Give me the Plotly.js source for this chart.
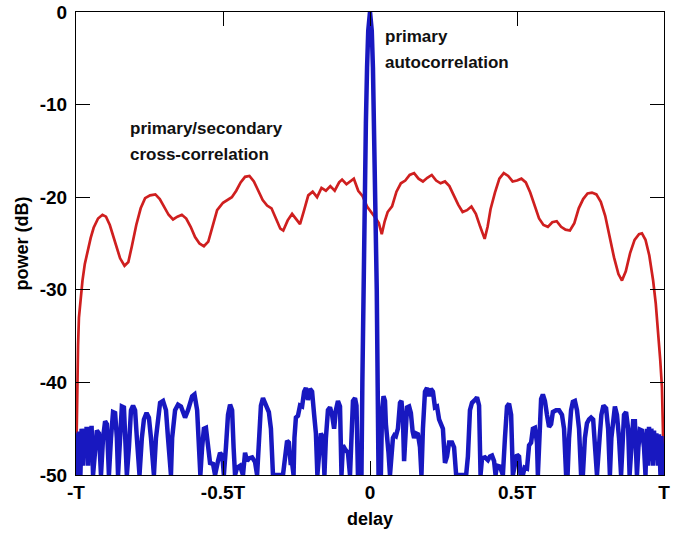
<!DOCTYPE html>
<html>
<head>
<meta charset="utf-8">
<script src="https://cdn.plot.ly/plotly-3.0.1.min.js"></script>
<style>html,body{margin:0;padding:0;background:#fff;}#chart{width:685px;height:533px;}</style>
</head>
<body>
<div id="chart"></div>
<script>
// delay in units of T, power in dB
const delayTicks = [-1, -0.5, 0, 0.5, 1];
const delayTickLabels = ['-T', '-0.5T', '0', '0.5T', 'T'];
const powerTicks = [-50, -40, -30, -20, -10, 0];
const powerTickLabels = ['-50', '-40', '-30', '-20', '-10', '0'];

// primary/secondary cross-correlation (red)
const crossDelay = [
 -1.0,-0.998,-0.996,-0.993,-0.990,-0.985,-0.978,-0.970,-0.960,-0.950,-0.940,-0.925,-0.910,-0.898,-0.885,
 -0.865,-0.850,-0.835,-0.822,-0.810,-0.795,-0.780,-0.765,-0.748,-0.730,-0.715,-0.700,-0.685,-0.670,-0.655,
 -0.640,-0.625,-0.610,-0.595,-0.580,-0.565,-0.550,-0.535,-0.520,-0.500,-0.485,-0.470,-0.455,-0.440,-0.425,
 -0.410,-0.395,-0.380,-0.365,-0.350,-0.335,-0.320,-0.305,-0.295,-0.280,-0.265,-0.250,-0.238,-0.225,-0.210,
 -0.195,-0.180,-0.165,-0.150,-0.135,-0.120,-0.105,-0.095,-0.080,-0.065,-0.055,-0.040,-0.025,-0.010,0.005,
 0.020,0.030,0.040,0.050,0.060,0.075,0.090,0.105,0.120,0.135,0.150,0.165,0.180,0.195,0.210,
 0.225,0.240,0.255,0.270,0.285,0.300,0.315,0.330,0.345,0.360,0.375,0.390,0.400,0.410,0.425,
 0.440,0.455,0.470,0.485,0.500,0.515,0.530,0.545,0.560,0.575,0.590,0.605,0.620,0.635,0.650,
 0.665,0.680,0.695,0.710,0.725,0.740,0.755,0.770,0.785,0.800,0.815,0.830,0.845,0.857,0.870,
 0.885,0.900,0.915,0.925,0.937,0.950,0.963,0.972,0.980,0.987,0.993,0.997,1.0
];
const crossPower = [
 -50,-45,-40,-36,-33,-31,-29,-27.2,-25.7,-24.4,-23.3,-22.3,-21.9,-22.1,-23.0,
 -25.0,-26.6,-27.4,-27.0,-25.3,-23.0,-21.2,-20.1,-19.8,-19.7,-20.2,-21.0,-21.9,-22.4,-22.1,
 -21.9,-22.3,-23.2,-24.3,-25.0,-25.3,-24.8,-23.0,-21.4,-20.6,-20.3,-20.0,-19.3,-18.4,-17.8,
 -17.7,-18.3,-19.3,-20.3,-20.9,-21.2,-22.3,-23.4,-23.6,-22.5,-21.8,-22.4,-22.9,-21.5,-19.8,
 -19.4,-20.0,-19.0,-19.3,-18.8,-19.3,-18.4,-18.1,-18.6,-18.2,-18.0,-19.3,-19.9,-21.0,-21.6,
 -22.3,-22.8,-24.0,-22.6,-21.6,-21.0,-19.4,-18.5,-18.2,-17.6,-17.4,-18.0,-18.3,-17.9,-17.6,
 -18.2,-18.5,-18.3,-18.8,-19.8,-20.8,-21.6,-21.4,-21.0,-21.8,-23.2,-24.5,-23.2,-21.3,-19.5,
 -18.0,-17.4,-17.7,-18.3,-18.2,-18.0,-18.4,-19.5,-21.0,-22.3,-23.0,-23.2,-22.7,-22.6,-23.2,
 -23.5,-23.6,-22.8,-21.2,-20.2,-19.6,-19.5,-19.7,-20.5,-22.0,-24.2,-26.5,-28.3,-29.0,-28.0,
 -26.0,-24.6,-24.0,-23.9,-24.6,-26.3,-29.0,-31.5,-34.4,-37.5,-40.5,-46,-50
];

// primary autocorrelation (blue)
const autoDelay = [
 -1.000,-0.997,-0.993,-0.990,-0.985,-0.981,-0.976,-0.973,-0.968,-0.964,-0.959,-0.956,-0.951,-0.947,-0.942,
 -0.935,-0.929,-0.922,-0.915,-0.908,-0.901,-0.895,-0.888,-0.881,-0.874,-0.867,-0.861,-0.857,-0.850,-0.844,
 -0.837,-0.830,-0.827,-0.820,-0.813,-0.806,-0.799,-0.793,-0.784,-0.776,-0.769,-0.760,-0.752,-0.745,-0.735,
 -0.728,-0.721,-0.714,-0.704,-0.694,-0.687,-0.677,-0.673,-0.663,-0.653,-0.643,-0.629,-0.619,-0.605,-0.597,
 -0.588,-0.582,-0.577,-0.571,-0.565,-0.558,-0.551,-0.544,-0.534,-0.527,-0.517,-0.510,-0.502,-0.497,-0.490,
 -0.483,-0.476,-0.469,-0.464,-0.459,-0.452,-0.442,-0.432,-0.425,-0.418,-0.412,-0.401,-0.391,-0.384,-0.378,
 -0.371,-0.364,-0.357,-0.350,-0.344,-0.337,-0.330,-0.296,-0.289,-0.282,-0.276,-0.270,-0.265,-0.260,-0.257,
 -0.252,-0.245,-0.238,-0.231,-0.224,-0.218,-0.211,-0.204,-0.197,-0.190,-0.184,-0.179,-0.173,-0.167,-0.160,
 -0.155,-0.150,-0.143,-0.136,-0.129,-0.122,-0.116,-0.109,-0.102,-0.097,-0.092,-0.083,-0.075,-0.068,-0.063,
 -0.058,-0.051,-0.046,-0.041,
 -0.029,-0.026,-0.023,-0.019,-0.014,-0.010,-0.006,0,0.006,0.010,0.014,0.019,0.023,0.026,0.029,
 0.037,0.041,0.046,0.051,0.054,0.058,0.063,0.068,0.073,0.078,0.083,0.088,0.095,0.102,0.107,
 0.112,0.116,0.121,0.126,0.133,0.139,0.145,0.150,0.156,0.163,0.170,0.175,0.180,0.187,0.194,
 0.201,0.207,0.214,0.221,0.228,0.235,0.241,0.248,0.255,0.262,0.269,0.279,0.286,0.293,0.327,
 0.333,0.340,0.347,0.357,0.364,0.371,0.376,0.381,0.391,0.401,0.408,0.415,0.422,0.427,0.432,
 0.442,0.452,0.459,0.466,0.473,0.480,0.486,0.493,0.500,0.507,0.512,0.520,0.526,0.534,0.541,
 0.548,0.554,0.561,0.568,0.571,0.577,0.582,0.588,0.595,0.602,0.609,0.616,0.622,0.633,0.643,
 0.653,0.660,0.667,0.672,0.677,0.684,0.690,0.697,0.704,0.711,0.718,0.724,0.731,0.738,0.745,
 0.752,0.759,0.765,0.772,0.781,0.787,0.794,0.803,0.810,0.816,0.821,0.827,0.833,0.840,0.847,
 0.854,0.859,0.864,0.871,0.878,0.883,0.888,0.895,0.901,0.908,0.913,0.918,0.925,0.932,0.937,
 0.942,0.946,0.949,0.954,0.957,0.963,0.966,0.971,0.974,0.980,0.983,0.988,0.991,0.997
];
const autoPower = [
 -50,-45.5,-50,-45.3,-50,-45,-49,-45,-48,-44.8,-49,-44.8,-47,-44.7,-50,
 -47,-45.2,-45.5,-50,-46,-44.2,-44.5,-50,-46,-43.2,-43.3,-46,-50,-45,-42.6,
 -42.7,-47,-50,-47,-43,-42.5,-43,-46,-50,-46,-44,-43.3,-43.8,-46,-50,
 -46,-43.5,-42.2,-42,-43,-46,-50,-46,-43,-42.4,-42.6,-43.8,-43,-41.5,-41.3,
 -43,-47,-50,-47,-45,-44.9,-47.5,-48.7,-48.8,-50,-48.5,-47.6,-48,-50,-47,
 -43.5,-42.4,-43,-47,-50,-49.2,-49,-50,-47.6,-48.5,-48.2,-48.1,-48.6,-50,-46,
 -42.5,-41.7,-42.3,-43,-43.2,-45,-50,-50,-48,-46.3,-46.5,-48.7,-48.7,-50,-46,
 -43.8,-43.6,-42.5,-42.6,-41,-40.6,-41.9,-40.7,-41,-43.5,-45.5,-50,-47,-45.5,-46,
 -50,-46,-43,-42.7,-43.5,-45,-43,-42,-42.6,-50,-46.8,-47.3,-47.6,-50,-45,
 -42,-41.7,-42.5,-50,
 -50,-40,-30,-20,-12,-6,-2,0,-2,-6,-12,-20,-30,-40,-50,
 -50,-43,-41.5,-42,-44.5,-45.5,-47.6,-50,-47.6,-46,-45.7,-45.8,-45,-42.2,-42,
 -44,-48.5,-46,-42.7,-42.6,-43.3,-45.3,-46,-45.5,-45.6,-47,-50,-45,-41,-40.6,
 -41.5,-40.7,-41,-42.7,-42.6,-44,-44.5,-45,-48.7,-48,-46.5,-46.5,-47,-50,-50,
 -48,-43,-42.2,-41.9,-41.6,-42.5,-50,-48.2,-48.1,-48.4,-48,-47.9,-48.5,-50,-49,
 -49.1,-50,-46,-42.6,-42.3,-43.5,-50,-49,-47.8,-48,-50,-50,-49.2,-49.3,-46.8,
 -46.5,-45,-44.9,-46.5,-50,-45,-41.8,-41.3,-42,-43.5,-44.8,-44.5,-43.2,-43,-43,
 -43.5,-45,-50,-50,-46,-43,-42.1,-42,-43,-45,-50,-50,-46,-44.4,-44,
 -43.8,-44,-46.5,-50,-46,-43.5,-42.5,-42.8,-45,-50,-46,-43.5,-42.6,-43.5,-46,
 -50,-46,-43.5,-43.2,-45,-50,-46.5,-44.2,-44.2,-50,-47,-45.1,-45.2,-47,-50,
 -45,-49,-44.8,-48.5,-45,-49,-45.2,-48,-45.5,-49,-45.6,-50,-45.8,-50
];

const FONT = 'Liberation Sans, Arial, Helvetica, sans-serif';

const traces = [
  {x: crossDelay, y: crossPower, type: 'scatter', mode: 'lines',
   line: {color: '#cf1f1f', width: 2.7}, hoverinfo: 'skip'},
  {x: autoDelay, y: autoPower, type: 'scatter', mode: 'lines',
   line: {color: '#1818c0', width: 4.5}, hoverinfo: 'skip'}
];

const axisCommon = {
  showgrid: false, zeroline: false, showline: true, linecolor: '#000', linewidth: 1,
  mirror: 'ticks', ticks: 'inside', ticklen: 14, tickwidth: 1, tickcolor: '#000',
  tickfont: {family: FONT, size: 19, color: '#000', weight: 'bold'}
};

const annFont = {family: FONT, size: 17, color: '#111', weight: 'bold'};

const layout = {
  width: 685, height: 533,
  margin: {l: 76, r: 21, t: 12, b: 58},
  paper_bgcolor: '#fff', plot_bgcolor: '#fff',
  showlegend: false,
  xaxis: Object.assign({}, axisCommon, {
    range: [-1, 1], tickmode: 'array', tickvals: delayTicks, ticktext: delayTickLabels,
    ticklabelstandoff: 0,
    title: {text: 'delay', font: {family: FONT, size: 18, color: '#000', weight: 'bold'}, standoff: 10}
  }),
  yaxis: Object.assign({}, axisCommon, {
    range: [-50, 0], tickmode: 'array', tickvals: powerTicks, ticktext: powerTickLabels,
    ticklabelstandoff: 4,
    title: {text: 'power (dB)', font: {family: FONT, size: 18, color: '#000', weight: 'bold'}, standoff: 6}
  }),
  annotations: [
    {x: -0.823, y: -12.6, xref: 'x', yref: 'y', text: 'primary/secondary', showarrow: false,
     xanchor: 'left', yanchor: 'middle', font: annFont},
    {x: -0.823, y: -15.4, xref: 'x', yref: 'y', text: 'cross-correlation', showarrow: false,
     xanchor: 'left', yanchor: 'middle', font: annFont},
    {x: 0.044, y: -2.6, xref: 'x', yref: 'y', text: 'primary', showarrow: false,
     xanchor: 'left', yanchor: 'middle', font: annFont},
    {x: 0.044, y: -5.5, xref: 'x', yref: 'y', text: 'autocorrelation', showarrow: false,
     xanchor: 'left', yanchor: 'middle', font: annFont}
  ]
};

Plotly.newPlot('chart', traces, layout, {staticPlot: true, displayModeBar: false});
</script>
</body>
</html>
